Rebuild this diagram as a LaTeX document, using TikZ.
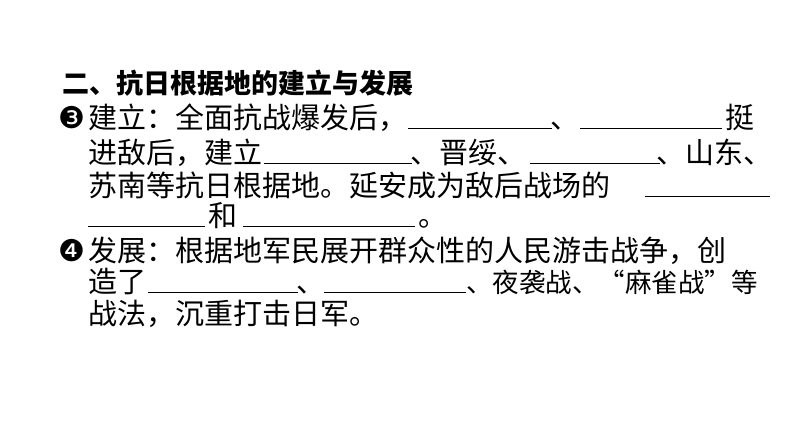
\documentclass[tikz,border=0pt]{standalone}
\usepackage{fontspec}
\newfontfamily\cjk{Noto Sans CJK SC}
\newfontfamily\dv{DejaVu Sans}
\begin{document}
\begin{tikzpicture}[x=1pt,y=-1pt,
  t/.style={anchor=base west,inner sep=0pt,font=\cjk\fontsize{29}{29}\selectfont},
  h/.style={anchor=base west,inner sep=0pt,font=\cjk\bfseries\fontsize{27}{27}\selectfont},
  c/.style={anchor=base west,inner sep=0pt,font=\dv\fontsize{30}{30}\selectfont},
  bl/.style={line width=0.8pt}]
\useasboundingbox (0,0) rectangle (794,447);
\node[h] (l1) at (62,93) {二、抗日根据地的建立与发展};
% line 2
\node[c] (n3) at (58,128) {❸};
\node[t] (a1) at (88,128) {建立：全面抗战爆发后，};
\coordinate (b1s) at (408,128); \coordinate (b1e) at (552,128);
\node[t] (a2) at (550,128) {、};
\coordinate (b2s) at (580,128); \coordinate (b2e) at (722,128);
\node[t] (a3) at (725,128) {挺};
\draw[bl] (b1s) -- (b1e); \draw[bl] (b2s) -- (b2e);
% line 3
\node[t] (c1) at (88,163) {进敌后，建立};
\coordinate (b3s) at (264,163); \coordinate (b3e) at (412,163);
\node[t] (c2) at (410,163) {、晋绥、};
\coordinate (b4s) at (530,163); \coordinate (b4e) at (660,163);
\node[t] (c3) at (656,163) {、山东、};
\draw[bl] (b3s) -- (b3e); \draw[bl] (b4s) -- (b4e);
% line 4
\node[t] (d1) at (88,196) {苏南等抗日根据地。延安成为敌后战场的};
\coordinate (b5s) at (645,196); \coordinate (b5e) at (770,196);
\draw[bl] (b5s) -- (b5e);
% line 5
\coordinate (b6s) at (88,226); \coordinate (b6e) at (205,226);
\node[t] (e1) at (208,226) {和};
\coordinate (b7s) at (243,226); \coordinate (b7e) at (415,226);
\node[t] (e2) at (418,226) {。};
\draw[bl] (b6s) -- (b6e); \draw[bl] (b7s) -- (b7e);
% line 6
\node[c] (n4) at (58,261) {❹};
\node[t] (f1) at (88,261) {发展：根据地军民展开群众性的人民游击战争，创};
% line 7
\node[t] (g1) at (88,292) {造了};
\coordinate (b8s) at (148,292); \coordinate (b8e) at (298,292);
\node[t] (g2) at (296,292) {、};
\coordinate (b9s) at (324,292); \coordinate (b9e) at (466,292);
\node[t,font=\cjk\fontsize{26.5}{26.5}\selectfont] (g3) at (466,292) {、夜袭战、“麻雀战”等};
\draw[bl] (b8s) -- (b8e); \draw[bl] (b9s) -- (b9e);
% line 8
\node[t] (h1) at (88,324) {战法，沉重打击日军。};
\end{tikzpicture}
\end{document}
